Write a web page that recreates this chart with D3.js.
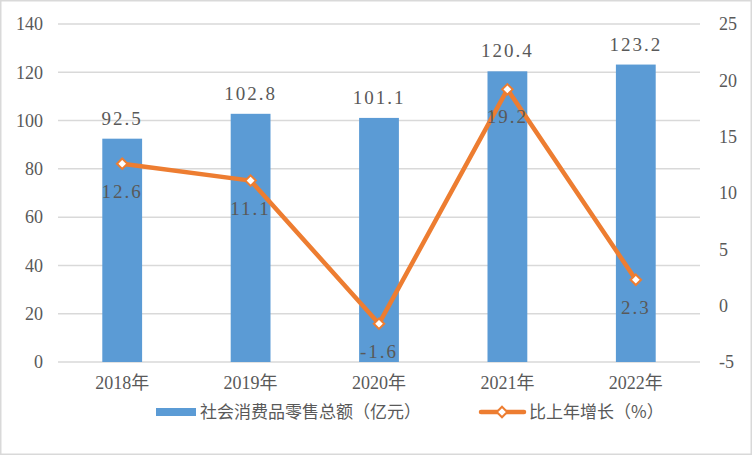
<!DOCTYPE html>
<html>
<head>
<meta charset="utf-8">
<script src="https://cdn.jsdelivr.net/npm/d3@7/dist/d3.min.js"></script>
<style>
  body { margin: 0; background: #fff; }
  svg text { fill: #595959; }
</style>
</head>
<body>
<svg id="chart" width="752" height="455"></svg>
<script>
var years = ["2018年", "2019年", "2020年", "2021年", "2022年"];
var retailSales = [92.5, 102.8, 101.1, 120.4, 123.2];
var growthRate = [12.6, 11.1, -1.6, 19.2, 2.3];
var leftTicks = [0, 20, 40, 60, 80, 100, 120, 140];
var rightTicks = [-5, 0, 5, 10, 15, 20, 25];
var legendNames = ["社会消费品零售总额（亿元）", "比上年增长（%）"];

var width = 752,
    height = 455,
    plotLeft = 58, plotRight = 700,
    plotTop = 24, plotBottom = 362;

var numFont = "'Liberation Serif', 'Noto Sans CJK SC', serif";
var cjkFont = "'Noto Sans CJK SC', sans-serif";
var barColor = "#5B9BD5", lineColor = "#ED7D31", gridColor = "#D9D9D9";

var svg = d3.select("#chart");

// chart border
svg.append("rect")
  .attr("x", 0.75).attr("y", 0.75)
  .attr("width", width - 1.5).attr("height", height - 1.5)
  .attr("fill", "#fff")
  .attr("stroke", gridColor)
  .attr("stroke-width", 1.5);

var x = d3.scaleBand()
  .domain(years)
  .range([plotLeft, plotRight])
  .paddingInner(0.69)
  .paddingOuter(0.345);

var yL = d3.scaleLinear().domain([0, 140]).range([plotBottom, plotTop]);
var yR = d3.scaleLinear().domain([-5, 25]).range([plotBottom, plotTop]);

// gridlines
svg.append("g")
  .selectAll("line")
  .data(leftTicks)
  .join("line")
    .attr("x1", plotLeft).attr("x2", plotRight)
    .attr("y1", function(d) { return yL(d); })
    .attr("y2", function(d) { return yL(d); })
    .attr("stroke", gridColor)
    .attr("stroke-width", 1.5);

// left axis
var axisL = svg.append("g")
  .attr("transform", "translate(" + plotLeft + ",0)")
  .call(d3.axisLeft(yL).tickValues(leftTicks).tickFormat(String).tickSize(0).tickPadding(15));
axisL.select(".domain").remove();
axisL.selectAll("text")
  .attr("font-family", numFont)
  .attr("font-size", 18)
  .style("fill", "#595959");

// right axis
var axisR = svg.append("g")
  .attr("transform", "translate(" + plotRight + ",0)")
  .call(d3.axisRight(yR).tickValues(rightTicks).tickFormat(String).tickSize(0).tickPadding(19));
axisR.select(".domain").remove();
axisR.selectAll("text")
  .attr("font-family", numFont)
  .attr("font-size", 18)
  .style("fill", "#595959");

// x axis labels
var axisX = svg.append("g")
  .attr("transform", "translate(0," + plotBottom + ")")
  .call(d3.axisBottom(x).tickSize(0).tickPadding(14));
axisX.select(".domain").remove();
axisX.selectAll("text")
  .attr("font-family", numFont)
  .attr("font-size", 18)
  .style("fill", "#595959");

// bars
svg.append("g")
  .selectAll("rect")
  .data(retailSales)
  .join("rect")
    .attr("x", function(d, i) { return x(years[i]); })
    .attr("y", function(d) { return yL(d); })
    .attr("width", x.bandwidth())
    .attr("height", function(d) { return yL(0) - yL(d); })
    .attr("fill", barColor);

svg.append("g")
  .selectAll("text")
  .data(retailSales)
  .join("text")
    .attr("x", function(d, i) { return x(years[i]) + x.bandwidth() / 2; })
    .attr("y", function(d) { return yL(d) - 14; })
    .attr("text-anchor", "middle")
    .attr("font-family", numFont)
    .attr("font-size", 19)
    .attr("letter-spacing", 2)
    .text(function(d) { return d.toFixed(1); });

// growth line
var line = d3.line()
  .x(function(d, i) { return x(years[i]) + x.bandwidth() / 2; })
  .y(function(d) { return yR(d); });

svg.append("path")
  .datum(growthRate)
  .attr("d", line)
  .attr("fill", "none")
  .attr("stroke", lineColor)
  .attr("stroke-width", 4.5)
  .attr("stroke-linejoin", "round");

var diamond = d3.symbol().type(d3.symbolDiamond2).size(70);

svg.append("g")
  .selectAll("path")
  .data(growthRate)
  .join("path")
    .attr("d", diamond)
    .attr("transform", function(d, i) {
      return "translate(" + (x(years[i]) + x.bandwidth() / 2) + "," + yR(d) + ")";
    })
    .attr("fill", "#fff")
    .attr("stroke", lineColor)
    .attr("stroke-width", 2);

svg.append("g")
  .selectAll("text")
  .data(growthRate)
  .join("text")
    .attr("x", function(d, i) { return x(years[i]) + x.bandwidth() / 2; })
    .attr("y", function(d) { return yR(d) + 34; })
    .attr("text-anchor", "middle")
    .attr("font-family", numFont)
    .attr("font-size", 19)
    .attr("letter-spacing", 2)
    .text(function(d) { return d.toFixed(1); });

// legend
var legY = 412;
svg.append("rect")
  .attr("x", 156).attr("y", legY - 4)
  .attr("width", 40).attr("height", 8)
  .attr("fill", barColor);
svg.append("text")
  .attr("x", 200).attr("y", legY + 6)
  .attr("font-family", cjkFont)
  .attr("font-size", 17)
  .text(legendNames[0]);

svg.append("line")
  .attr("x1", 481).attr("x2", 524)
  .attr("y1", legY).attr("y2", legY)
  .attr("stroke", lineColor)
  .attr("stroke-width", 4.5)
  .attr("stroke-linecap", "round");
svg.append("path")
  .attr("d", diamond)
  .attr("transform", "translate(502," + legY + ")")
  .attr("fill", "#fff")
  .attr("stroke", lineColor)
  .attr("stroke-width", 2);
svg.append("text")
  .attr("x", 529).attr("y", legY + 6)
  .attr("font-family", cjkFont)
  .attr("font-size", 17)
  .text(legendNames[1]);
</script>
</body>
</html>
